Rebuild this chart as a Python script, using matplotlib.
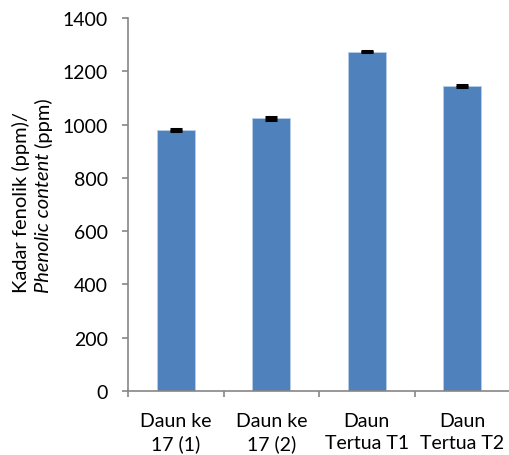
import matplotlib

matplotlib.use("Agg")
import matplotlib.pyplot as plt
import numpy as np

# kadar fenolik per sampel daun
categories = ["Daun ke\n17 (1)", "Daun ke\n17 (2)", "Daun\nTertua T1", "Daun\nTertua T2"]
phenolic = [979, 1023, 1274, 1145]
phenolic_err = [3, 4, 3, 3]

plt.rcParams.update({
    "font.family": ["Lato", "DejaVu Sans"],
    "font.size": 14,
})

axis_grey = "#868686"
bar_blue = "#4F81BD"

fig = plt.figure(figsize=(5.1, 4.56), dpi=100)
ax = fig.add_axes([0.251, 0.1404, 0.749, 0.8179])

x = np.arange(len(categories))
ax.bar(x, phenolic, width=0.4, color=bar_blue, edgecolor="#B9CDE5", linewidth=0.6, zorder=2)
ax.errorbar(x, phenolic, yerr=phenolic_err, fmt="none", ecolor="black",
            elinewidth=1, capsize=4, capthick=2.2, zorder=3)

ax.set_xlim(-0.5, len(categories) - 0.5)
ax.set_ylim(0, 1400)
ax.set_yticks(np.arange(0, 1401, 200))

# label kategori di tengah, tanda tick di batas kategori
ax.set_xticks(x)
ax.set_xticklabels(categories, linespacing=1.38)
ax.set_xticks(np.arange(-0.5, len(categories)), minor=True)
ax.tick_params(axis="x", which="major", length=0, pad=15)
ax.tick_params(axis="x", which="minor", length=4, width=1.2, color=axis_grey, direction="out")
ax.tick_params(axis="y", length=4.5, width=1.2, color=axis_grey, direction="out", pad=10)

for side in ("top", "right"):
    ax.spines[side].set_visible(False)
for side in ("left", "bottom"):
    ax.spines[side].set_color(axis_grey)
    ax.spines[side].set_linewidth(1.2)

# judul sumbu y: baris kedua sebagian miring
fig.text(21 / 510, 1 - 293 / 456, "Kadar fenolik (ppm)/", rotation=90,
         ha="center", va="bottom", fontsize=14.5)
t_it = fig.text(44 / 510, 1 - 293 / 456, "Phenolic content", rotation=90,
                ha="center", va="bottom", fontsize=14.5, style="italic")
ax.annotate(" (ppm)", xy=(0.5, 1.0), xycoords=t_it, rotation=90,
            ha="center", va="bottom", fontsize=14.5, annotation_clip=False)

fig.savefig("out.png", dpi=100)
